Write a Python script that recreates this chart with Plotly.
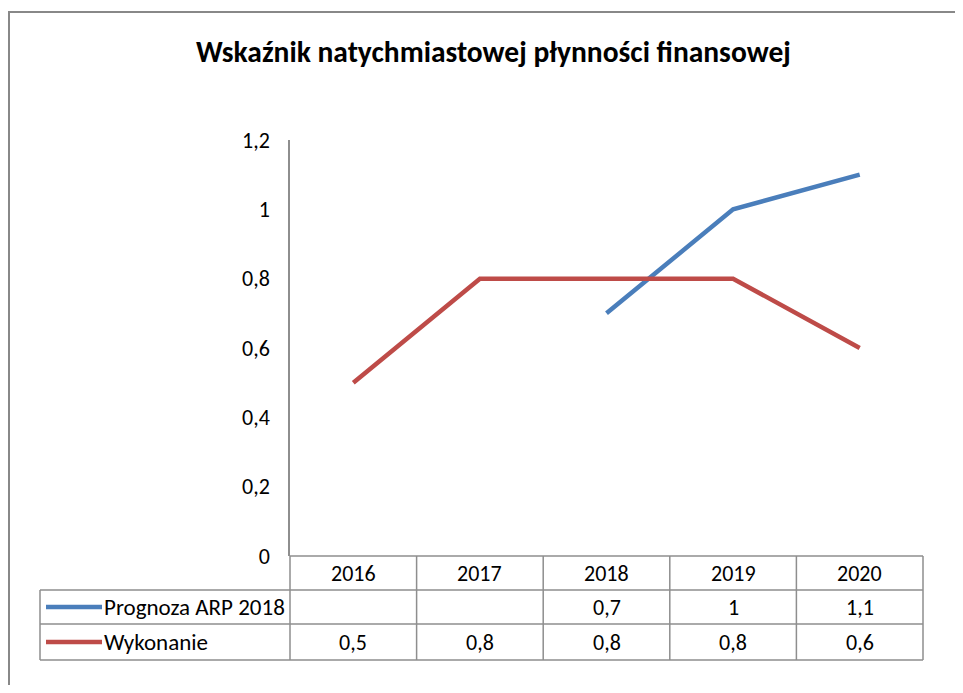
import plotly.graph_objects as go

# ---- data ----
years = ["2016", "2017", "2018", "2019", "2020"]
prognoza = [None, None, 0.7, 1.0, 1.1]
wykonanie = [0.5, 0.8, 0.8, 0.8, 0.6]
series_names = ["Prognoza ARP 2018", "Wykonanie"]
y_ticks = [0, 0.2, 0.4, 0.6, 0.8, 1.0, 1.2]
title_text = "Wskaźnik natychmiastowej płynności finansowej"

# ---- layout geometry (pixels, in screenshot coords) ----
OFF = 8  # page body margin
W, H = 963 - 2 * OFF, 693 - 2 * OFF
PL, PR, PT, PB = 290, 923, 140, 556
FONT = "Carlito, Lato"
GRID = "#8e8e8e"
colors = ["#4A7EBB", "#BE4B48"]
FS = 22

def px_x(px):
    return (px - PL) / (PR - PL)

def px_y(py):
    return (PB - py) / (PB - PT)

n = len(years)
xmin, xmax = -0.5, n - 0.5

def xdata_to_paper(v):
    return (v - xmin) / (xmax - xmin)

def fmt(v):
    return "" if v is None else f"{v:g}".replace(".", ",")

fig = go.Figure()
for name, vals, col in zip(series_names, [prognoza, wykonanie], colors):
    fig.add_trace(go.Scatter(
        x=list(range(n)), y=vals, mode="lines", name=name,
        line=dict(color=col, width=4.5), connectgaps=False,
        showlegend=False, hoverinfo="skip"))

shapes = []
annotations = []

row_tops = [556, 590, 624, 660]
table_left = 40

shapes.append(dict(type="line", xref="paper", yref="paper",
                   x0=0, x1=1, y0=px_y(row_tops[0]), y1=px_y(row_tops[0]),
                   line=dict(color=GRID, width=1.5)))
for r in row_tops[1:]:
    shapes.append(dict(type="line", xref="paper", yref="paper",
                       x0=px_x(table_left), x1=1, y0=px_y(r), y1=px_y(r),
                       line=dict(color=GRID, width=1.5)))
for i in range(n + 1):
    xp = xdata_to_paper(i - 0.5)
    shapes.append(dict(type="line", xref="paper", yref="paper",
                       x0=xp, x1=xp, y0=px_y(row_tops[0]), y1=px_y(row_tops[-1]),
                       line=dict(color=GRID, width=1.5)))
shapes.append(dict(type="line", xref="paper", yref="paper",
                   x0=px_x(table_left), x1=px_x(table_left),
                   y0=px_y(row_tops[1]), y1=px_y(row_tops[-1]),
                   line=dict(color=GRID, width=1.5)))

# outer chart frame (right/bottom edges fall outside the view)
shapes.append(dict(type="rect", xref="paper", yref="paper",
                   x0=px_x(9), x1=px_x(990), y0=px_y(12), y1=px_y(720),
                   line=dict(color="#888888", width=2)))

for i, yr in enumerate(years):
    annotations.append(dict(x=i, xref="x", y=px_y((row_tops[0] + row_tops[1]) / 2),
                            yref="paper", text=yr, showarrow=False,
                            xanchor="center", yanchor="middle",
                            font=dict(family=FONT, size=FS, color="#000")))

for k, (name, vals, col) in enumerate(zip(series_names, [prognoza, wykonanie], colors)):
    ymid = px_y((row_tops[k + 1] + row_tops[k + 2]) / 2)
    shapes.append(dict(type="line", xref="paper", yref="paper",
                       x0=px_x(46), x1=px_x(102), y0=ymid, y1=ymid,
                       line=dict(color=col, width=4.5)))
    annotations.append(dict(x=px_x(102), xref="paper", y=ymid, yref="paper",
                            text=name, showarrow=False, xanchor="left",
                            yanchor="middle",
                            font=dict(family=FONT, size=FS + 1, color="#000")))
    for i, v in enumerate(vals):
        annotations.append(dict(x=i, xref="x", y=ymid, yref="paper",
                                text=fmt(v), showarrow=False,
                                xanchor="center", yanchor="middle",
                                font=dict(family=FONT, size=FS, color="#000")))

annotations.append(dict(x=px_x(493), xref="paper", y=px_y(52), yref="paper",
                        text="<b>" + title_text + "</b>", showarrow=False,
                        xanchor="center", yanchor="middle",
                        font=dict(family=FONT, size=29.5, color="#000")))

fig.update_layout(
    width=W, height=H,
    margin=dict(l=PL - OFF, r=W - (PR - OFF), t=PT - OFF, b=H - (PB - OFF), pad=0),
    paper_bgcolor="white", plot_bgcolor="white",
    separators=", ",
    showlegend=False,
    shapes=shapes, annotations=annotations,
    xaxis=dict(range=[xmin, xmax], showticklabels=False, showgrid=False,
               zeroline=False, showline=False, ticks="", fixedrange=True),
    yaxis=dict(range=[0, 1.2], tickvals=y_ticks,
               ticktext=[fmt(v) for v in y_ticks],
               showgrid=False, zeroline=False, showline=True,
               linecolor=GRID, linewidth=1.5, ticks="",
               ticklabelstandoff=14,
               tickfont=dict(family=FONT, size=FS, color="#000")),
)

fig.write_html("out.html")
